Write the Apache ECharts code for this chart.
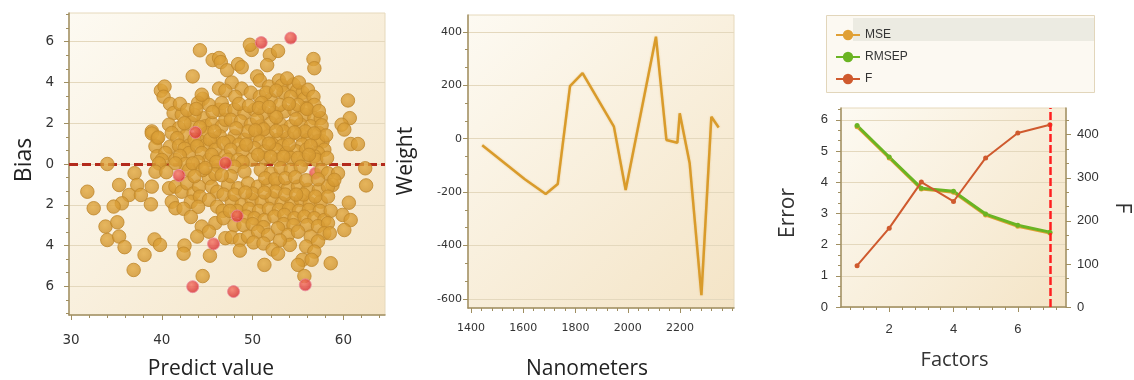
<!DOCTYPE html>
<html>
<head>
<meta charset="utf-8">
<script src="https://cdn.jsdelivr.net/npm/echarts@6/dist/echarts.min.js"></script>
<style>
  html, body { margin: 0; padding: 0; background: #fff; }
  #chart { width: 1134px; height: 380px; }
</style>
</head>
<body>
<div id="chart"></div>
<script>
  // ---- panel 1: bias vs predict value, [predict, bias]
  const biasPoints = [
    [44.2, 5.58], [45.6, 5.1], [46.3, 5.2], [46.5, 5.0], [47.2, 4.6], [43.4, 4.3], [49.9, 5.6], [49.7, 5.85], [51.9, 5.35], [52.8, 5.55],
    [51.6, 4.85], [56.7, 5.15], [56.8, 4.7], [48.4, 4.9], [48.8, 4.75], [47.7, 4.0], [50.5, 4.3], [50.8, 4.1], [51.8, 3.8], [52.9, 4.1],
    [53.2, 3.85], [53.4, 3.5], [54.5, 3.9], [54.9, 3.6], [55.5, 3.5], [55.7, 3.2], [46.3, 3.7], [47.0, 3.6], [48.8, 3.7], [48.1, 3.3],
    [49.8, 3.5], [50.8, 3.3], [52.0, 3.15], [44.5, 3.2], [44.0, 3.0], [45.2, 2.9], [44.4, 3.4], [39.9, 3.6], [40.3, 3.8], [40.2, 3.3],
    [40.9, 2.95], [60.5, 3.12], [53.8, 4.2], [55.1, 4.0], [56.1, 3.64],
    [51.5, 3.5], [52.6, 3.6], [54.2, 3.3], [56.7, 3.3], [55.9, 2.75],
    [41.3, 2.5], [42.2, 2.42], [40.8, 1.93], [41.9, 1.76], [41.1, 1.52], [42.6, 1.36], [41.7, 1.27], [38.9, 1.6], [39.5, 1.27], [44.6, 2.25],
    [44.8, 1.85], [45.5, 2.0], [45.0, 1.52], [46.6, 1.85], [47.0, 2.17], [46.4, 1.36], [46.3, 2.66], [46.6, 2.99], [47.0, 2.66], [48.0, 2.66],
    [49.1, 2.5], [50.2, 2.66], [51.3, 2.5], [52.4, 2.5], [53.5, 2.58], [54.6, 2.66], [55.7, 2.42], [56.8, 2.25], [57.5, 2.25], [47.6, 2.17],
    [48.7, 2.09], [49.8, 1.93], [50.9, 1.85], [52.0, 2.0], [53.1, 1.93], [54.2, 1.85], [55.3, 1.93], [56.4, 1.85], [57.3, 1.52], [57.7, 1.11],
    [48.0, 1.36], [49.1, 1.19], [50.4, 1.44], [51.7, 1.36], [52.8, 1.19], [53.9, 1.27], [55.2, 1.44], [56.1, 1.19], [57.2, 1.11], [57.9, 0.7],
    [60.7, 2.25], [59.8, 1.93], [60.1, 1.69], [60.8, 0.98], [61.6, 0.98], [48.5, 2.95], [51.0, 3.0], [53.0, 2.9], [55.0, 2.9], [50.5, 2.2],
    [52.6, 2.3], [54.8, 2.2], [49.5, 1.6], [51.2, 1.7], [53.4, 1.6], [55.8, 1.6], [56.8, 2.9], [57.6, 1.9], [58.1, 1.4], [43.2, 2.0],
    [43.6, 2.4], [42.5, 2.0], [44.2, 1.1], [43.0, 0.9],
    [49.6, 2.85], [50.7, 2.75], [51.8, 2.8], [54.0, 2.95], [56.0, 2.7], [57.3, 2.6], [48.2, 1.75], [50.3, 1.65], [52.6, 1.62], [54.6, 1.55],
    [56.8, 1.5], [47.4, 1.1], [48.5, 0.95], [50.8, 1.1], [52.2, 0.95], [53.3, 0.9], [55.5, 0.95], [57.2, 0.55],
    [42.0, 2.95], [42.8, 2.65], [43.8, 2.7], [45.6, 2.55], [45.8, 1.1], [44.9, 0.95], [40.9, 0.85], [41.9, 0.9], [42.5, 0.75], [43.6, 1.2],
    [44.2, 1.8], [45.3, 1.2], [45.8, 1.6],
    [39.3, 0.87], [39.5, 0.38], [40.4, 0.54], [41.5, 0.21], [43.0, 0.54], [43.9, 0.87], [44.4, 0.54], [45.2, 0.21], [45.9, 0.7], [46.8, 1.03],
    [47.0, 0.38], [34.0, 0.0], [47.6, 0.7], [48.9, 0.62], [50.2, 0.78], [51.3, 0.62], [52.6, 0.7], [53.7, 0.54], [54.8, 0.62], [55.9, 0.7],
    [56.8, 0.38], [47.3, 0.21], [48.4, 0.21], [49.9, 0.21], [51.3, 0.3], [52.8, 0.21], [54.2, 0.3], [55.7, 0.21], [57.0, 0.21], [38.9, 1.5],
    [39.6, 1.3], [42.0, 0.4], [42.6, 0.0], [44.0, 0.1], [45.5, 0.45], [46.2, -0.1], [58.2, 0.3], [49.3, 0.95], [51.8, 1.0], [54.0, 0.95],
    [56.4, 0.9], [48.9, 0.1], [50.6, 0.45], [52.0, 0.35], [53.4, 0.35], [55.0, 0.3], [56.2, 0.45], [40.0, 0.2], [46.0, 0.1],
    [62.4, -0.21], [62.5, -1.05], [39.7, 0.03], [41.5, 0.03], [43.0, -0.29], [43.4, 0.03], [48.0, -0.13], [49.1, -0.38], [50.9, -0.29], [52.0, -0.46],
    [53.1, -0.21], [54.2, -0.29], [55.3, -0.13], [57.6, -0.3], [58.3, -0.46], [59.4, -0.46], [58.8, -1.03], [37.0, -0.45], [37.3, -1.03], [36.4, -1.52],
    [37.7, -1.52], [35.6, -1.93], [38.9, -1.11], [39.3, -0.38], [40.8, -1.19], [41.5, -1.11], [41.1, -1.85], [41.5, -2.17], [42.2, -1.36], [42.8, -0.95],
    [43.5, -1.44], [44.1, -1.11], [43.2, -1.85], [44.2, -1.6], [45.2, -0.7], [45.5, -1.11], [46.1, -1.36], [45.2, -1.76], [46.1, -2.09], [47.3, -1.03],
    [48.4, -1.19], [49.5, -0.95], [50.6, -1.11], [51.7, -1.03], [52.8, -0.95], [53.9, -1.19], [55.0, -1.11], [56.1, -1.27], [57.3, -1.27], [58.3, -1.11],
    [59.0, -0.78], [44.5, -0.3], [45.9, -0.5], [40.5, -0.4],
    [47.6, -0.6], [51.4, -0.7], [52.5, -0.75], [53.6, -0.7], [54.7, -0.65], [55.9, -0.8], [57.2, -0.75], [43.6, -0.6], [44.8, -0.2], [46.6, -0.55],
    [31.8, -1.36], [32.5, -2.17], [35.3, -1.03], [34.7, -2.09], [38.8, -1.98], [47.7, -1.85], [48.8, -2.0], [49.9, -1.76], [51.0, -1.85], [52.1, -1.68],
    [53.2, -1.93], [54.3, -1.93], [55.3, -1.76], [56.3, -1.93], [57.5, -1.85], [58.3, -1.6], [60.6, -1.9], [42.4, -2.2], [44.0, -2.1], [46.8, -1.5],
    [50.0, -1.45], [52.5, -1.35], [55.6, -1.5], [48.0, -1.5], [49.2, -1.4], [51.3, -1.4], [53.6, -1.5], [54.8, -1.5], [56.9, -1.6],
    [48.3, -2.3], [49.6, -2.2], [50.7, -2.3], [51.8, -2.2], [52.9, -2.25], [54.0, -2.2], [55.1, -2.3], [56.2, -2.25], [57.4, -2.3], [46.7, -2.3],
    [33.8, -3.07], [35.1, -2.86], [59.9, -2.5], [60.8, -2.75], [60.1, -3.24], [49.3, -2.58], [50.2, -2.66], [51.3, -2.75], [52.4, -2.58], [53.5, -2.5],
    [54.6, -2.66], [55.7, -2.58], [56.8, -2.66], [57.9, -2.75], [44.4, -3.07], [45.9, -2.9], [46.8, -2.66], [43.2, -2.6], [47.5, -2.3], [58.6, -2.3],
    [48.0, -3.0], [49.0, -3.0], [50.0, -2.95], [51.2, -3.1], [53.4, -2.95], [54.5, -3.0], [56.0, -3.0], [57.2, -3.05], [58.3, -2.9],
    [34.0, -3.73], [35.3, -3.56], [35.9, -4.08], [39.2, -3.7], [39.8, -3.97], [43.9, -3.56], [45.2, -3.32], [47.0, -3.64], [42.5, -4.0], [47.7, -3.6],
    [48.6, -3.73], [49.5, -3.56], [50.6, -3.32], [51.7, -3.48], [52.8, -3.15], [53.9, -3.48], [55.0, -3.32], [56.4, -3.56], [57.9, -3.4], [58.5, -3.4],
    [54.1, -3.97], [55.9, -4.05], [50.1, -3.85], [51.2, -3.9], [53.0, -3.75], [57.2, -3.8],
    [36.9, -5.2], [38.1, -4.46], [42.4, -4.4], [45.3, -4.5], [44.5, -5.5], [48.6, -4.25], [52.2, -4.2], [52.8, -4.4], [51.3, -4.95], [56.8, -4.3],
    [55.5, -4.7], [55.0, -4.95], [56.5, -4.7], [55.7, -5.5], [58.6, -4.87]
  ]
  const outlierPoints = [
    [50.95, 5.96], [54.2, 6.18], [43.7, 1.55], [47.0, 0.05], [41.9, -0.56],
    [48.3, -2.55], [45.7, -3.92], [43.4, -6.02], [47.9, -6.26], [55.8, -5.93]
  ]
  const hiddenOutliers = [[56.9, -0.46]]
  const predictTicks = [30, 40, 50, 60]
  const predictMinorTicks = [30, 32, 34, 36, 38, 40, 42, 44, 46, 48, 50, 52, 54, 56, 58, 60, 62, 64]
  const biasTicks = [-6, -4, -2, 0, 2, 4, 6]
  const biasMinorTicks = [-7.333, -6.667, -6, -5.333, -4.667, -4, -3.333, -2.667, -2, -1.333, -0.667, 0,
    0.667, 1.333, 2, 2.667, 3.333, 4, 4.667, 5.333, 6, 6.667, 7.333]

  // ---- panel 2: regression weights
  const nanometers = [1443, 1606, 1686, 1732, 1779, 1827, 1947, 1992, 2108, 2148, 2190, 2199, 2237, 2282, 2320, 2348]
  const weights = [-25, -152, -207, -170, 197, 245, 45, -192, 382, -5, -15, 95, -92, -586, 82, 42]
  const nmTicks = [1400, 1600, 1800, 2000, 2200]
  const nmMinorTicks = [1400, 1440, 1480, 1520, 1560, 1600, 1640, 1680, 1720, 1760, 1800, 1840, 1880, 1920, 1960,
    2000, 2040, 2080, 2120, 2160, 2200, 2240, 2280, 2320, 2360, 2400]
  const weightTicks = [-600, -400, -200, 0, 200, 400]
  const weightMinorTicks = [-600, -533.3, -466.7, -400, -333.3, -266.7, -200, -133.3, -66.7, 0,
    66.7, 133.3, 200, 266.7, 333.3, 400]

  // ---- panel 3: errors / F per factor
  const factors = [1, 2, 3, 4, 5, 6, 7]
  const mseValues = [5.78, 4.78, 3.78, 3.68, 2.95, 2.59, 2.37]
  const rmsepValues = [5.82, 4.81, 3.81, 3.71, 2.98, 2.62, 2.40]
  const fValues = [96, 183, 290, 245, 346, 404, 423]
  const chosenFactor = 7
  const factorTicks = [2, 4, 6]
  const factorMinorTicks = [0.8, 1.2, 1.6, 2, 2.4, 2.8, 3.2, 3.6, 4, 4.4, 4.8, 5.2, 5.6, 6, 6.4, 6.8, 7.2]
  const errorTicks = [0, 1, 2, 3, 4, 5, 6]
  const errorMinorTicks = [0, 0.333, 0.667, 1, 1.333, 1.667, 2, 2.333, 2.667, 3, 3.333, 3.667, 4, 4.333, 4.667,
    5, 5.333, 5.667, 6, 6.333]
  const fTicks = [0, 100, 200, 300, 400]
  const fMinorTicks = [0, 33.3, 66.7, 100, 133.3, 166.7, 200, 233.3, 266.7, 300, 333.3, 366.7, 400, 433.3]

  const axisColor = '#a08f62'
  const labelColor = '#333'
  const titleColor = '#222'

  const plotBg = new echarts.graphic.LinearGradient(0, 0, 1, 1, [
    { offset: 0, color: '#fdfaf2' },
    { offset: 1, color: '#f4e4c6' }
  ])

  function majorAxis(gridIndex, position, min, max, ticks, font, margin, split, formatter) {
    return {
      type: 'value', gridIndex, position, min, max,
      axisLine: { show: true, onZero: false, lineStyle: { color: axisColor, width: 1.5 } },
      axisTick: { show: true, length: 5, customValues: ticks, lineStyle: { color: axisColor } },
      axisLabel: {
        customValues: ticks, margin, color: labelColor,
        fontFamily: font[0], fontSize: font[1],
        formatter: formatter || (v => String(v))
      },
      splitLine: { show: split, lineStyle: { color: '#e4d8bd', width: 1 } },
      minorTick: { show: false },
      minorSplitLine: { show: false }
    }
  }
  function minorAxis(gridIndex, position, min, max, ticks) {
    return {
      type: 'value', gridIndex, position, min, max,
      axisLine: { show: false, onZero: false },
      axisTick: { show: true, length: 3, customValues: ticks, lineStyle: { color: axisColor } },
      axisLabel: { show: false },
      splitLine: { show: false }
    }
  }

  const dejavu14 = ['DejaVu Sans', 13.5]
  const dejavu11 = ['DejaVu Sans', 11]
  const lib13 = ['Liberation Sans', 13]

  const xRange1 = [29.78, 64.58], yRange1 = [-7.41, 7.41]
  const xRange2 = [1388.5, 2406.7], yRange2 = [-634, 463]
  const xRange3 = [0.5, 7.5], yRange3 = [0, 6.38], fRange3 = [0, 462]

  const gridBase = { show: true, backgroundColor: plotBg, borderColor: '#e6d9bc', borderWidth: 1, outerBoundsMode: 'none' }

  const orangeStyle = {
    color: new echarts.graphic.RadialGradient(0.45, 0.4, 0.6, [
      { offset: 0, color: '#e2a83e' }, { offset: 1, color: '#cf922c' }
    ]),
    borderColor: '#bf872b', borderWidth: 1
  }
  const redStyle = {
    color: new echarts.graphic.RadialGradient(0.4, 0.35, 0.7, [
      { offset: 0, color: '#f47262' }, { offset: 1, color: '#d3262c' }
    ]),
    borderColor: '#e88a9c', borderWidth: 1
  }

  function title(text, x, y, size, rot, color) {
    return {
      type: 'text', x, y, rotation: rot,
      style: {
        text, fill: color || titleColor, align: 'center', verticalAlign: 'middle',
        font: `${size}px "Open Sans"`
      }
    }
  }

  const chart = echarts.init(document.getElementById('chart'), null, { renderer: 'canvas' })
  chart.setOption({
    animation: false,
    backgroundColor: '#fff',
    grid: [
      Object.assign({ left: 69, top: 13, width: 316, height: 302 }, gridBase),
      Object.assign({ left: 468, top: 15, width: 266, height: 293 }, gridBase),
      Object.assign({ left: 841, top: 108, width: 225, height: 199 }, gridBase)
    ],
    xAxis: [
      majorAxis(0, 'bottom', xRange1[0], xRange1[1], predictTicks, dejavu14, 18, false),
      minorAxis(0, 'bottom', xRange1[0], xRange1[1], predictMinorTicks),
      majorAxis(1, 'bottom', xRange2[0], xRange2[1], nmTicks, dejavu11, 15, false),
      minorAxis(1, 'bottom', xRange2[0], xRange2[1], nmMinorTicks),
      majorAxis(2, 'bottom', xRange3[0], xRange3[1], factorTicks, lib13, 16, false),
      minorAxis(2, 'bottom', xRange3[0], xRange3[1], factorMinorTicks)
    ],
    yAxis: [
      majorAxis(0, 'left', yRange1[0], yRange1[1], biasTicks, dejavu14, 15, true, v => String(Math.abs(v))),
      minorAxis(0, 'left', yRange1[0], yRange1[1], biasMinorTicks),
      majorAxis(1, 'left', yRange2[0], yRange2[1], weightTicks, dejavu11, 6, true),
      minorAxis(1, 'left', yRange2[0], yRange2[1], weightMinorTicks),
      majorAxis(2, 'left', yRange3[0], yRange3[1], errorTicks, lib13, 13, true),
      minorAxis(2, 'left', yRange3[0], yRange3[1], errorMinorTicks),
      majorAxis(2, 'right', fRange3[0], fRange3[1], fTicks, lib13, 11, false),
      minorAxis(2, 'right', fRange3[0], fRange3[1], fMinorTicks)
    ],
    legend: {
      data: ['MSE', 'RMSEP', 'F'],
      orient: 'vertical',
      left: 830, top: 24,
      itemWidth: 24, itemHeight: 13, itemGap: 10,
      selectedMode: false,
      lineStyle: { width: 2 },
      textStyle: { fontFamily: 'Liberation Sans', fontSize: 12, color: '#333' }
    },
    graphic: [
      { type: 'rect', z: 0, shape: { x: 826.5, y: 15.5, width: 268, height: 77 }, style: { fill: '#fcf9f2', stroke: '#e2d6bb', lineWidth: 1 } },
      { type: 'rect', z: 1, shape: { x: 853, y: 18, width: 241, height: 23 }, style: { fill: '#ecebe2' } },
      title('Bias', 24, 160, 23, Math.PI / 2),
      title('Predict value', 211, 369.5, 21, 0),
      title('Weight', 406, 161, 21, Math.PI / 2),
      title('Nanometers', 587, 369.5, 21, 0),
      title('Error', 788, 213, 21, Math.PI / 2, '#333'),
      title('F', 1122, 208, 21, -Math.PI / 2, '#333'),
      title('Factors', 954.5, 360, 20, 0, '#333')
    ],
    tooltip: { show: false },
    series: [
      {
        type: 'scatter', xAxisIndex: 0, yAxisIndex: 0, z: 2,
        data: hiddenOutliers, symbolSize: 12, itemStyle: redStyle
      },
      {
        type: 'scatter', xAxisIndex: 0, yAxisIndex: 0, z: 2,
        data: biasPoints, symbolSize: 13.5, itemStyle: orangeStyle,
        markLine: {
          z: 1, silent: true, symbol: 'none', label: { show: false },
          lineStyle: { color: '#b32a1c', type: [9, 4], width: 3 },
          data: [{ yAxis: 0 }]
        }
      },
      {
        type: 'scatter', xAxisIndex: 0, yAxisIndex: 0, z: 3,
        data: outlierPoints, symbolSize: 12, itemStyle: redStyle
      },
      {
        type: 'line', xAxisIndex: 2, yAxisIndex: 2,
        data: nanometers.map((n, i) => [n, weights[i]]),
        symbol: 'none',
        lineStyle: { color: '#d99b2b', width: 2.5, shadowColor: 'rgba(217,155,43,0.4)', shadowBlur: 2 }
      },
      {
        name: 'MSE', type: 'line', xAxisIndex: 4, yAxisIndex: 4,
        data: factors.map((f, i) => [f, mseValues[i]]),
        symbol: 'circle', symbolSize: 5,
        itemStyle: { color: '#e0a035' },
        lineStyle: { color: '#e0a035', width: 3 }
      },
      {
        name: 'RMSEP', type: 'line', xAxisIndex: 4, yAxisIndex: 4,
        data: factors.map((f, i) => [f, rmsepValues[i]]),
        symbol: 'circle', symbolSize: 5,
        itemStyle: { color: '#6ab423' },
        lineStyle: { color: '#6ab423', width: 3 }
      },
      {
        name: 'F', type: 'line', xAxisIndex: 4, yAxisIndex: 6,
        data: factors.map((f, i) => [f, fValues[i]]),
        symbol: 'circle', symbolSize: 5,
        itemStyle: { color: '#cf5a2e' },
        lineStyle: { color: '#cf5a2e', width: 2 },
        markLine: {
          silent: true, symbol: 'none', label: { show: false },
          lineStyle: { color: '#ff1f1f', type: [8, 3], width: 2.5 },
          data: [{ xAxis: chosenFactor }]
        }
      }
    ]
  })
</script>
</body>
</html>
